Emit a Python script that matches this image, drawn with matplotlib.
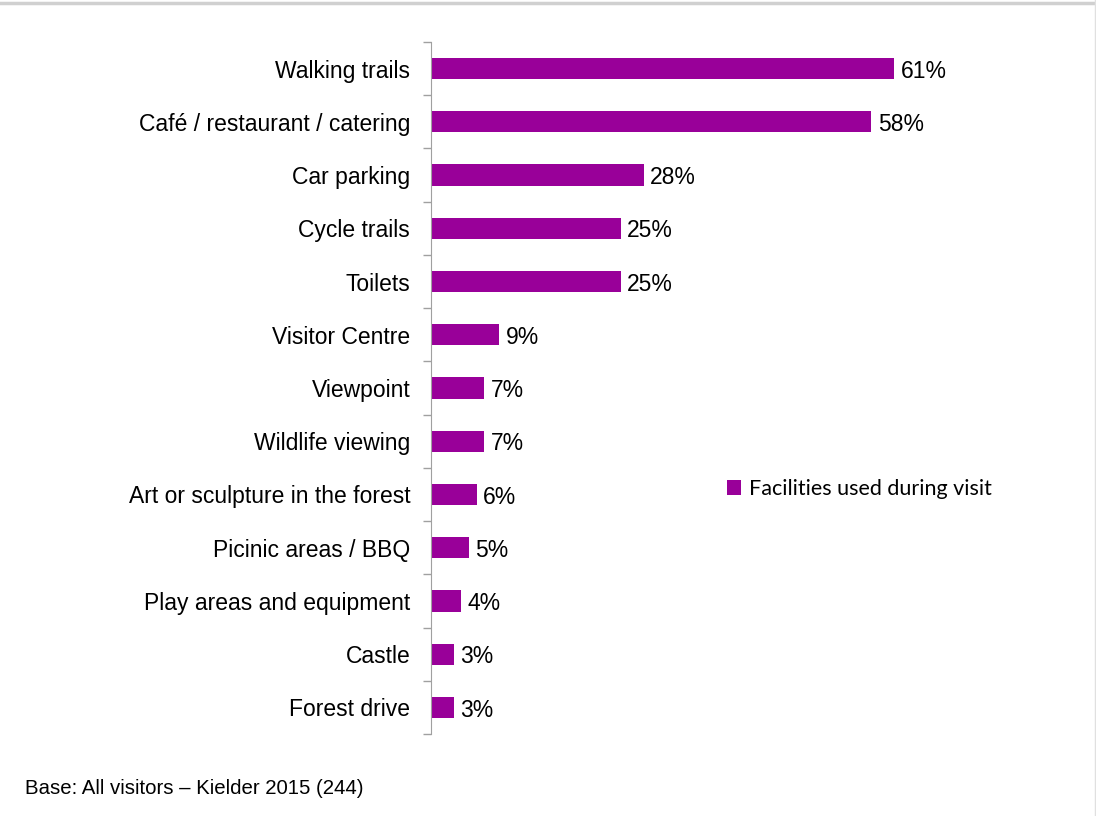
import matplotlib.pyplot as plt
from matplotlib.lines import Line2D

# Facilities used during visit, share of visitors (%)
facilities = ['Walking trails', 'Café / restaurant / catering', 'Car parking',
              'Cycle trails', 'Toilets', 'Visitor Centre', 'Viewpoint',
              'Wildlife viewing', 'Art or sculpture in the forest',
              'Picinic areas / BBQ', 'Play areas and equipment', 'Castle',
              'Forest drive']
pct = [61, 58, 28, 25, 25, 9, 7, 7, 6, 5, 4, 3, 3]

bar_color = '#990099'
W, H = 1096, 816

fig = plt.figure(figsize=(W / 100, H / 100), dpi=100)
plt.rcParams['font.family'] = ['Liberation Sans', 'DejaVu Sans']

# axes placed in pixel terms: left edge 431, top 42, bottom 734
x0, x1 = 431, 1050
y_top, y_bot = 42, 734
ax = fig.add_axes([x0 / W, 1 - y_bot / H, (x1 - x0) / W, (y_bot - y_top) / H])

n = len(facilities)
ypos = list(range(n))
ax.barh(ypos, pct, height=0.4, color=bar_color, label='Facilities used during visit')
ax.set_ylim(n - 0.5, -0.5)
ax.set_xlim(0, (x1 - x0) / ((894 - 431) / 61))

for y, v in zip(ypos, pct):
    ax.text(v + 0.85, y + 0.05, f'{v}%', va='center', ha='left', fontsize=16.5, color='black')

for side in ['top', 'right', 'bottom']:
    ax.spines[side].set_visible(False)
ax.spines['left'].set_color('#a0a0a0')
ax.set_xticks([])
ax.set_yticks([i - 0.5 for i in range(n + 1)], minor=False)
ax.set_yticklabels([])
ax.tick_params(axis='y', length=6, color='#a0a0a0', width=1)
ax.set_yticks(ypos, minor=True)
ax.set_yticklabels(facilities, minor=True, fontsize=16.5)
ax.tick_params(axis='y', which='minor', length=0, pad=15)

# legend
leg = ax.legend(loc='center left', bbox_to_anchor=((708 - x0) / (x1 - x0), 1 - (489 - y_top) / (y_bot - y_top)),
                frameon=False, handlelength=0.65, handleheight=0.65, handletextpad=0.35,
                prop={'family': 'Lato', 'size': 15.5})

# footnote
fig.text(25 / W, 1 - 788 / H, 'Base: All visitors \u2013 Kielder 2015 (244)', fontsize=14.7,
         va='center', ha='left')

# thin frame lines at top and right
fig.add_artist(Line2D([0, 1], [1 - 2.5 / H, 1 - 2.5 / H], color='#d0d0d0', lw=2.5))
fig.add_artist(Line2D([1 - 1.5 / W, 1 - 1.5 / W], [0, 1], color='#e0e0e0', lw=1))

fig.savefig('out.png', dpi=100)
